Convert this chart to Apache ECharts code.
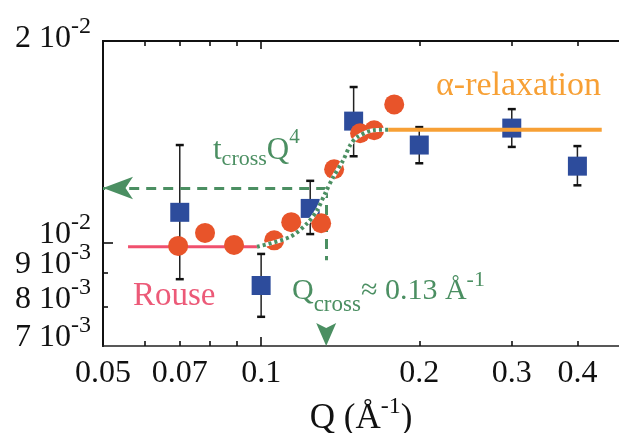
<!DOCTYPE html>
<html>
<head>
<meta charset="utf-8">
<script src="https://cdn.jsdelivr.net/npm/echarts@6/dist/echarts.min.js"></script>
<style>
  html, body { margin: 0; padding: 0; background: #fff; }
  #chart { width: 619px; height: 433px; }
</style>
</head>
<body>
<div id="chart"></div>
<script>
// Characteristic time vs. momentum transfer Q, log-log axes.
const Q_MIN = 0.05, Q_MAX = 0.48;
const T_MIN = 0.007, T_MAX = 0.02;

// Blue squares with error bars
const squareQ    = [0.07,    0.1,     0.124,   0.15,    0.2,     0.3,     0.4];
const squareT    = [0.01109, 0.00862, 0.01124, 0.01518, 0.01398, 0.01482, 0.01300];
const squareLow  = [0.00881, 0.00774, 0.01029, 0.01345, 0.01313, 0.01389, 0.01217];
const squareHigh = [0.01398, 0.00961, 0.01236, 0.01707, 0.01487, 0.01582, 0.01393];

// Orange circles
const circleQ = [0.0695, 0.0782, 0.0888, 0.1059, 0.1141, 0.1301, 0.1377, 0.1543, 0.1641, 0.1792];
const circleT = [0.00988, 0.01033, 0.00991, 0.01007, 0.01072, 0.01068, 0.01286, 0.01456, 0.01471, 0.01608];

// Rouse plateau
const rouseQ = [0.0558, 0.0982];
const rouseT = [0.00985, 0.00985];

// alpha-relaxation plateau
const alphaQ = [0.1745, 0.445];
const alphaT = [0.01474, 0.01474];

// crossover curve t_cross Q^4 joining both plateaus
const crossQ = [0.0982, 0.1135, 0.1224, 0.1278, 0.1324, 0.1371, 0.1433, 0.1478, 0.1524, 0.1634, 0.1745];
const crossT = [0.00985, 0.01019, 0.01068, 0.01117, 0.01184, 0.01251, 0.01327, 0.01398, 0.01437, 0.01471, 0.01474];

// crossover guides
const Q_CROSS = 0.133;
const T_CROSS = 0.01206;
const T_GUIDE_END = 0.0094;
const T_MARKER = 0.00728;

// tick labels and tick marks
const xLabelValues = [0.05, 0.07, 0.1, 0.2, 0.3, 0.4];
const xMinorTicks  = [0.06, 0.07, 0.08, 0.09, 0.2, 0.3, 0.4];
const xMajorTicks  = [0.1];
const yLabelValues = [0.007, 0.008, 0.009, 0.01, 0.02];
const yMinorTicks  = [0.008, 0.009];
const yMajorTicks  = [0.01];

const SERIF = '"Liberation Serif", "Times New Roman", serif';
const BLUE = '#2d4c9c', ORANGE = '#e8542a', AMBER = '#f7a035';
const PINK = '#f0506e', PINK_TEXT = '#ec5a78', GREEN = '#4b8f62', INK = '#111';

const lg = Math.log10;
const pairs = (xs, ys) => xs.map((x, i) => [x, ys[i]]);

function rich(size, color, pad) {
  const s = { fontSize: size, fontFamily: SERIF, color: color, fill: color };
  if (pad) s.padding = pad;
  return s;
}

// "9 10^-3" style labels; the top label sits a little lower
function sciLabel(v) {
  const exp = Math.floor(v + 1e-9);
  const mant = Math.round(Math.pow(10, v - exp));
  const top = Math.abs(v - lg(T_MAX)) < 1e-9;
  const m = top ? 'mt' : 'm', s = top ? 'st' : 's';
  return '{' + m + '|' + (mant === 1 ? '' : mant + ' ') + '10}{' + s + '|' + exp + '}';
}
function decLabel(v) {
  return String(+Math.pow(10, v).toPrecision(2));
}

// overlay axes in log10 space: ticks, labels and frame lines
function frameX(position, opts) {
  return Object.assign({
    show: true, type: 'value', position: position, gridIndex: 0,
    min: lg(Q_MIN), max: lg(Q_MAX),
    axisLine: { show: false, onZero: false },
    axisTick: { show: false },
    axisLabel: { show: false },
    splitLine: { show: false }
  }, opts);
}
function frameY(position, opts) {
  return Object.assign({
    show: true, type: 'value', position: position, gridIndex: 0,
    min: lg(T_MIN), max: lg(T_MAX),
    axisLine: { show: false, onZero: false },
    axisTick: { show: false },
    axisLabel: { show: false },
    splitLine: { show: false }
  }, opts);
}

// one overlay axis per y label, so closely stacked labels are all kept
const yLabelAxes = yLabelValues.map(v => frameY('left', {
  axisLabel: {
    show: true, customValues: [lg(v)], formatter: sciLabel,
    showMinLabel: true, showMaxLabel: true, hideOverlap: false,
    margin: 12, padding: [0, 0, 16, 0],
    rich: {
      m: rich(32, INK), s: rich(24, INK, [0, 0, 24, 0]),
      mt: rich(32, INK, [12, 0, 0, 0]), st: rich(24, INK, [0, 0, 12, 0])
    }
  }
}));

const chart = echarts.init(document.getElementById('chart'), null, { renderer: 'canvas' });

const option = {
  animation: false,
  backgroundColor: '#fff',
  grid: { left: 103, top: 41, width: 516, height: 305, outerBoundsMode: 'none', containLabel: false },
  xAxis: [
    { type: 'log', logBase: 10, min: Q_MIN, max: Q_MAX, show: false, gridIndex: 0 },
    frameX('bottom', {
      axisLine: { show: true, onZero: false, lineStyle: { color: '#222', width: 1.6 } },
      axisTick: { show: true, inside: true, length: 5, customValues: xMinorTicks.map(lg), lineStyle: { color: INK, width: 1.6 } },
      axisLabel: {
        show: true, customValues: xLabelValues.map(lg), formatter: decLabel,
        showMinLabel: true, showMaxLabel: true, hideOverlap: false,
        margin: 12, fontSize: 32, fontFamily: SERIF, color: INK
      },
      name: '{m|Q (Å}{s|-1}{m|)}',
      nameLocation: 'middle', nameGap: 42,
      nameTextStyle: { rich: { m: rich(35, INK), s: rich(24, INK, [0, 0, 24, 0]) } }
    }),
    frameX('bottom', {
      axisTick: { show: true, inside: true, length: 9, customValues: xMajorTicks.map(lg), lineStyle: { color: INK, width: 1.6 } }
    }),
    frameX('top', {
      axisLine: { show: true, onZero: false, lineStyle: { color: INK, width: 2 } },
      axisTick: { show: true, inside: true, length: 5, customValues: xMinorTicks.map(lg), lineStyle: { color: INK, width: 1.6 } }
    }),
    frameX('top', {
      axisTick: { show: true, inside: true, length: 8, customValues: xMajorTicks.map(lg), lineStyle: { color: INK, width: 1.6 } }
    })
  ],
  yAxis: [
    {
      type: 'log', logBase: 10, min: T_MIN, max: T_MAX, gridIndex: 0, position: 'left',
      axisLine: { show: true, onZero: false, lineStyle: { color: INK, width: 2 } },
      axisTick: { show: false }, minorTick: { show: false },
      axisLabel: { show: false }, splitLine: { show: false }, minorSplitLine: { show: false }
    },
    ...yLabelAxes,
    frameY('left', {
      axisLine: { show: true, onZero: false, lineStyle: { color: INK, width: 2 } },
      axisTick: { show: true, inside: true, length: 5, customValues: yMinorTicks.map(lg), lineStyle: { color: INK, width: 1.6 } }
    }),
    frameY('left', {
      axisTick: { show: true, inside: true, length: 10, customValues: yMajorTicks.map(lg), lineStyle: { color: INK, width: 1.6 } }
    })
  ],
  series: [
    {
      name: 'Rouse', type: 'line', xAxisIndex: 0, yAxisIndex: 0, z: 3,
      data: pairs(rouseQ, rouseT), showSymbol: false,
      lineStyle: { color: PINK, width: 3 }
    },
    {
      name: 'error', type: 'custom', xAxisIndex: 0, yAxisIndex: 0, z: 4,
      data: squareQ.map((q, i) => [q, squareLow[i], squareHigh[i]]),
      encode: { x: 0, y: [1, 2] },
      renderItem: function (params, api) {
        const q = api.value(0);
        const lo = api.coord([q, api.value(1)]);
        const hi = api.coord([q, api.value(2)]);
        const w = 4;
        return {
          type: 'group',
          children: [
            { type: 'line', shape: { x1: lo[0], y1: lo[1], x2: hi[0], y2: hi[1] }, style: { stroke: '#222', lineWidth: 1.5 } },
            { type: 'line', shape: { x1: lo[0] - w, y1: lo[1], x2: lo[0] + w, y2: lo[1] }, style: { stroke: INK, lineWidth: 2.5 } },
            { type: 'line', shape: { x1: hi[0] - w, y1: hi[1], x2: hi[0] + w, y2: hi[1] }, style: { stroke: INK, lineWidth: 2.5 } }
          ]
        };
      }
    },
    {
      name: 'squares', type: 'scatter', xAxisIndex: 0, yAxisIndex: 0, z: 5,
      data: pairs(squareQ, squareT), symbol: 'rect', symbolSize: 19,
      itemStyle: { color: BLUE, opacity: 1 }
    },
    {
      name: 'alpha', type: 'line', xAxisIndex: 0, yAxisIndex: 0, z: 6,
      data: pairs(alphaQ, alphaT), showSymbol: false,
      lineStyle: { color: AMBER, width: 4 }
    },
    {
      name: 'circles', type: 'scatter', xAxisIndex: 0, yAxisIndex: 0, z: 7,
      data: pairs(circleQ, circleT), symbol: 'circle', symbolSize: 20,
      itemStyle: { color: ORANGE, opacity: 1 }
    },
    {
      name: 'crossover base', type: 'line', xAxisIndex: 0, yAxisIndex: 0, z: 8,
      data: pairs(crossQ, crossT), showSymbol: false, smooth: 0.3,
      lineStyle: { color: '#ffffff', width: 4 }
    },
    {
      name: 'crossover', type: 'line', xAxisIndex: 0, yAxisIndex: 0, z: 9,
      data: pairs(crossQ, crossT), showSymbol: false, smooth: 0.3,
      lineStyle: { color: GREEN, width: 4, type: [3, 3] },
      markLine: {
        silent: true, animation: false, label: { show: false },
        lineStyle: { color: GREEN, width: 3, type: [10, 7] },
        data: [
          [
            { coord: [Q_CROSS, T_CROSS], symbol: 'none' },
            { coord: [Q_MIN, T_CROSS], symbol: 'arrow', symbolSize: [17, 30], symbolOffset: [0, 0] }
          ],
          [
            { coord: [Q_CROSS, T_CROSS], symbol: 'none' },
            { coord: [Q_CROSS, T_GUIDE_END], symbol: 'none' }
          ]
        ]
      }
    },
    {
      name: 'Qcross marker', type: 'scatter', xAxisIndex: 0, yAxisIndex: 0, z: 9,
      data: [[Q_CROSS, T_MARKER]],
      symbol: 'path://M0,0L6,3L12,0L6,14Z', symbolSize: [20, 23],
      itemStyle: { color: GREEN, opacity: 1 }
    }
  ],
  graphic: [
    {
      type: 'text', x: 213, y: 151, z: 20,
      style: {
        text: '{m|t}{b|cross}{m|Q}{p|4}', verticalAlign: 'middle', align: 'left', fill: GREEN,
        rich: { m: rich(31, GREEN), b: rich(22, GREEN, [16, 0, 0, 0]), p: rich(21, GREEN, [0, 0, 27, 0]) }
      }
    },
    {
      type: 'text', x: 436, y: 86, z: 20,
      style: { text: 'α-relaxation', verticalAlign: 'middle', align: 'left', fill: AMBER, fontSize: 34, fontFamily: SERIF }
    },
    {
      type: 'text', x: 133, y: 296, z: 20,
      style: { text: 'Rouse', verticalAlign: 'middle', align: 'left', fill: PINK_TEXT, fontSize: 33, fontFamily: SERIF }
    },
    {
      type: 'text', x: 292, y: 291, z: 20,
      style: {
        text: '{m|Q}{b|cross}{m|≈ 0.13 Å}{p|-1}', verticalAlign: 'middle', align: 'left', fill: GREEN,
        rich: { m: rich(30, GREEN), b: rich(23, GREEN, [27, 0, 0, 0]), p: rich(22, GREEN, [0, 0, 22, 0]) }
      }
    }
  ]
};

chart.setOption(option);
</script>
</body>
</html>
